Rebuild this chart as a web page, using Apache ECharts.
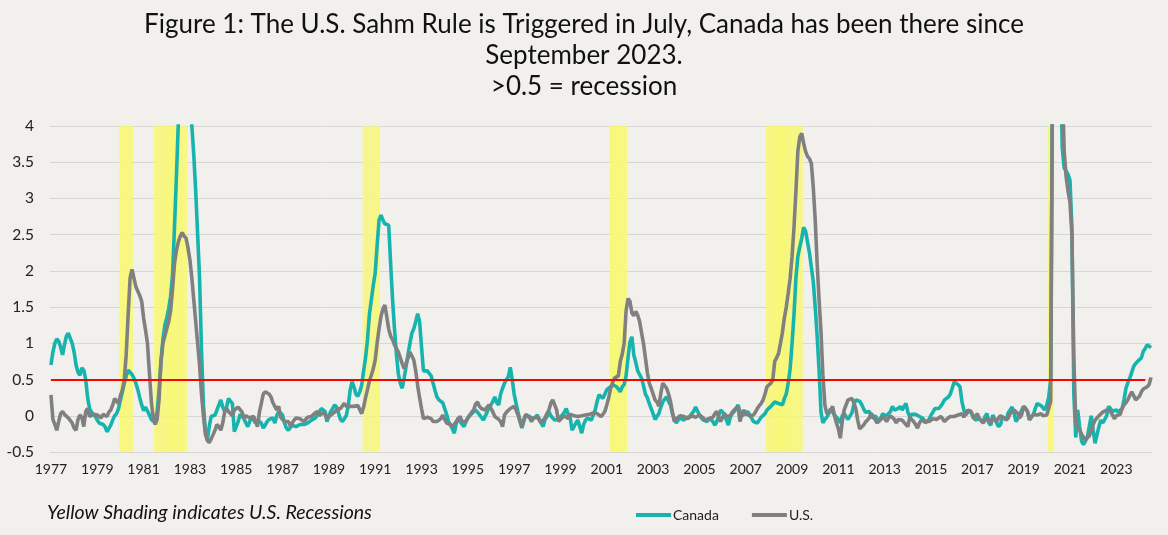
<!DOCTYPE html>
<html>
<head>
<meta charset="utf-8">
<script src="https://cdn.jsdelivr.net/npm/echarts@6/dist/echarts.min.js"></script>
<style>
  html, body { margin: 0; padding: 0; background: #f2f0ed; }
  #chart { width: 1168px; height: 535px; }
</style>
</head>
<body>
<div id="chart"></div>
<script>
// ---- DATA (monthly, Jan 1977 – Jul 2024) ----
const startYear = 1977;
const canada = [
  0.70, 0.88, 1.00, 1.06, 1.03, 0.95, 0.84, 0.98, 1.10, 1.14, 1.12, 1.00, // 1977
  0.88, 0.70, 0.60, 0.56, 0.66, 0.63, 0.50, 0.25, 0.10, 0.05, 0.03, -0.01, // 1978
  -0.06, -0.10, -0.08, -0.12, -0.15, -0.22, -0.24, -0.13, -0.06, 0.00, 0.03, 0.10, // 1979
  0.22, 0.33, 0.45, 0.55, 0.63, 0.62, 0.57, 0.52, 0.45, 0.36, 0.25, 0.15, // 1980
  0.07, 0.12, 0.10, 0.01, -0.05, -0.08, -0.08, 0.05, 0.35, 0.75, 1.05, 1.25, // 1981
  1.35, 1.48, 1.65, 1.95, 2.60, 3.30, 4.05, 4.60, 5.00, 5.20, 5.10, 4.80, // 1982
  4.40, 4.00, 3.60, 3.10, 2.50, 1.90, 0.90, 0.15, -0.20, -0.33, -0.15, -0.01, // 1983
  0.00, 0.01, 0.02, 0.15, 0.22, 0.12, 0.06, 0.12, 0.24, 0.20, 0.17, -0.22, // 1984
  -0.15, -0.08, 0.02, 0.01, -0.04, -0.10, -0.15, -0.08, -0.01, -0.03, -0.10, -0.06, // 1985
  -0.08, -0.10, -0.17, -0.13, -0.08, -0.05, -0.03, -0.03, -0.10, 0.00, 0.06, 0.04, // 1986
  0.01, -0.10, -0.17, -0.20, -0.18, -0.13, -0.14, -0.15, -0.14, -0.12, -0.10, -0.12, // 1987
  -0.13, -0.10, -0.08, -0.06, -0.04, -0.03, 0.01, 0.05, 0.10, 0.08, 0.06, -0.08, // 1988
  0.00, 0.06, 0.10, 0.15, 0.12, 0.10, -0.05, -0.08, -0.10, 0.00, 0.13, 0.35, // 1989
  0.47, 0.40, 0.30, 0.27, 0.33, 0.42, 0.62, 0.80, 1.05, 1.40, 1.60, 1.80, // 1990
  1.97, 2.35, 2.70, 2.77, 2.70, 2.65, 2.64, 2.63, 2.10, 1.60, 1.20, 0.85, // 1991
  0.58, 0.45, 0.38, 0.52, 0.68, 0.85, 1.00, 1.14, 1.20, 1.30, 1.41, 1.30, // 1992
  0.95, 0.62, 0.60, 0.62, 0.62, 0.55, 0.45, 0.35, 0.26, 0.22, 0.20, 0.18, // 1993
  0.17, 0.02, -0.08, -0.13, -0.18, -0.24, -0.10, -0.03, -0.08, -0.10, -0.15, -0.08, // 1994
  -0.03, 0.00, 0.03, 0.05, 0.08, 0.05, 0.03, -0.02, -0.06, -0.06, 0.05, 0.12, // 1995
  0.15, 0.20, 0.26, 0.18, 0.15, 0.30, 0.38, 0.45, 0.50, 0.54, 0.67, 0.50, // 1996
  0.30, 0.17, 0.05, -0.06, -0.17, -0.08, 0.01, 0.00, -0.01, -0.04, -0.06, -0.02, // 1997
  0.01, -0.01, -0.10, -0.15, -0.05, -0.01, 0.06, 0.00, -0.03, -0.06, -0.08, -0.04, // 1998
  -0.02, 0.01, 0.05, 0.10, 0.02, -0.02, -0.20, -0.15, -0.10, -0.06, -0.15, -0.24, // 1999
  -0.12, -0.06, -0.03, -0.01, -0.06, -0.08, 0.08, 0.20, 0.29, 0.27, 0.24, 0.30, // 2000
  0.36, 0.38, 0.40, 0.43, 0.42, 0.40, 0.37, 0.33, 0.40, 0.43, 0.55, 0.80, // 2001
  1.02, 1.09, 0.84, 0.74, 0.62, 0.57, 0.52, 0.42, 0.30, 0.25, 0.17, 0.10, // 2002
  0.03, -0.05, -0.06, 0.03, 0.12, 0.19, 0.23, 0.26, 0.20, 0.15, 0.03, -0.05, // 2003
  -0.10, -0.06, -0.03, -0.05, -0.06, -0.03, -0.02, -0.01, 0.03, 0.06, 0.12, 0.10, // 2004
  0.01, -0.03, -0.06, -0.04, -0.08, -0.03, -0.02, -0.08, -0.13, -0.08, 0.00, 0.08, // 2005
  0.05, 0.02, -0.06, -0.13, -0.02, 0.03, 0.06, 0.10, 0.15, 0.06, 0.00, -0.01, // 2006
  0.03, 0.06, 0.01, -0.03, -0.08, -0.09, -0.10, -0.06, -0.02, 0.00, 0.03, 0.08, // 2007
  0.10, 0.13, 0.16, 0.19, 0.18, 0.17, 0.16, 0.15, 0.24, 0.30, 0.45, 0.65, // 2008
  1.00, 1.40, 1.90, 2.20, 2.33, 2.45, 2.60, 2.55, 2.40, 2.25, 2.05, 1.85, // 2009
  1.50, 1.10, 0.63, 0.05, -0.10, -0.05, -0.02, 0.03, 0.10, 0.05, 0.01, 0.02, // 2010
  -0.05, -0.10, 0.00, 0.03, -0.01, -0.05, -0.06, 0.04, 0.15, 0.22, 0.22, 0.20, // 2011
  0.16, 0.10, 0.05, 0.03, 0.06, 0.00, -0.03, 0.00, -0.02, -0.08, -0.03, 0.03, // 2012
  -0.01, -0.01, 0.03, 0.06, 0.13, 0.08, 0.06, 0.10, 0.13, 0.08, 0.10, 0.17, // 2013
  0.05, -0.01, 0.02, 0.03, 0.02, 0.00, -0.01, -0.03, -0.04, -0.10, -0.08, -0.05, // 2014
  0.01, 0.05, 0.10, 0.08, 0.10, 0.13, 0.17, 0.22, 0.24, 0.26, 0.30, 0.38, // 2015
  0.47, 0.46, 0.43, 0.40, 0.20, 0.08, 0.01, 0.05, 0.08, 0.03, -0.01, -0.06, // 2016
  -0.08, -0.04, -0.06, -0.08, -0.01, 0.03, -0.10, -0.13, 0.01, -0.05, -0.10, -0.15, // 2017
  -0.12, -0.02, -0.03, -0.05, 0.04, 0.08, 0.12, 0.05, -0.08, -0.04, 0.02, 0.08, // 2018
  0.13, 0.10, 0.06, -0.04, -0.02, 0.01, 0.10, 0.17, 0.15, 0.14, 0.13, 0.08, // 2019
  0.15, 0.26, 0.50, 5.00, 9.00, 10.00, 9.00, 5.00, 3.70, 3.42, 3.38, 3.33, // 2020
  3.25, 2.60, 0.30, -0.30, 0.08, -0.15, -0.35, -0.40, -0.35, -0.29, -0.15, 0.00, // 2021
  -0.20, -0.38, -0.40, -0.15, -0.06, -0.10, -0.12, 0.00, 0.13, 0.10, 0.06, 0.04, // 2022
  0.08, 0.05, 0.07, 0.10, 0.22, 0.38, 0.46, 0.52, 0.60, 0.68, 0.72, 0.75, // 2023
  0.75, 0.80, 0.89, 0.93, 0.98, 0.98, 0.94 // 2024
];
const us = [
  0.29, -0.05, -0.12, -0.20, -0.08, 0.03, 0.06, 0.02, 0.01, -0.03, -0.01, -0.10, // 1977
  -0.17, -0.20, -0.05, 0.01, -0.02, -0.15, 0.06, 0.10, -0.01, 0.01, 0.02, 0.00, // 1978
  0.01, -0.01, -0.03, 0.02, 0.02, -0.01, 0.05, 0.08, 0.15, 0.24, 0.20, 0.17, // 1979
  0.28, 0.36, 0.50, 0.85, 1.40, 1.90, 2.02, 1.90, 1.78, 1.72, 1.66, 1.58, // 1980
  1.35, 1.18, 1.00, 0.60, 0.20, -0.05, -0.12, -0.05, 0.22, 0.75, 1.00, 1.10, // 1981
  1.20, 1.30, 1.45, 1.75, 2.10, 2.28, 2.40, 2.48, 2.53, 2.48, 2.45, 2.32, // 1982
  2.15, 1.90, 1.60, 1.30, 1.00, 0.70, 0.30, 0.00, -0.25, -0.34, -0.37, -0.32, // 1983
  -0.26, -0.20, -0.12, -0.15, -0.20, -0.10, 0.05, 0.10, 0.06, 0.04, 0.00, 0.08, // 1984
  0.10, 0.12, 0.10, 0.05, -0.03, 0.00, -0.01, -0.03, -0.03, -0.01, 0.00, -0.15, // 1985
  0.05, 0.17, 0.30, 0.33, 0.33, 0.30, 0.26, 0.18, 0.13, 0.08, 0.13, -0.02, // 1986
  -0.04, -0.08, -0.06, -0.08, -0.14, -0.10, -0.06, -0.03, -0.02, -0.04, -0.06, -0.08, // 1987
  -0.06, -0.02, 0.00, -0.01, 0.02, 0.03, 0.06, 0.00, 0.03, 0.02, 0.03, -0.04, // 1988
  -0.02, 0.01, 0.03, 0.05, 0.08, 0.10, 0.10, 0.12, 0.17, 0.13, 0.12, 0.13, // 1989
  0.15, 0.13, 0.12, 0.14, 0.15, 0.03, 0.12, 0.25, 0.36, 0.48, 0.56, 0.65, // 1990
  0.77, 1.00, 1.20, 1.37, 1.47, 1.53, 1.53, 1.20, 1.10, 1.05, 0.98, 0.93, // 1991
  0.88, 0.80, 0.72, 0.65, 0.72, 0.80, 0.88, 0.88, 0.77, 0.62, 0.42, 0.25, // 1992
  0.10, -0.04, -0.06, -0.02, -0.01, -0.04, -0.08, -0.06, -0.08, -0.10, -0.04, 0.01, // 1993
  -0.05, -0.10, -0.10, -0.12, -0.15, -0.12, -0.08, -0.04, -0.01, -0.08, -0.10, -0.08, // 1994
  -0.03, 0.01, 0.05, 0.08, 0.16, 0.19, 0.13, 0.10, 0.08, 0.08, 0.12, 0.15, // 1995
  0.17, 0.05, -0.01, -0.01, -0.05, -0.08, -0.15, 0.01, 0.05, 0.06, 0.10, 0.12, // 1996
  0.13, 0.08, 0.01, -0.08, -0.15, -0.05, 0.02, 0.03, -0.03, -0.08, -0.03, -0.01, // 1997
  -0.02, -0.06, -0.10, -0.06, -0.03, 0.03, 0.08, 0.17, 0.22, 0.15, 0.08, -0.08, // 1998
  -0.05, -0.03, 0.00, 0.01, -0.04, 0.02, 0.03, 0.00, -0.01, -0.01, -0.02, 0.00, // 1999
  0.02, 0.01, -0.01, 0.02, 0.03, 0.04, 0.06, 0.03, 0.02, -0.01, 0.02, 0.06, // 2000
  0.15, 0.25, 0.38, 0.46, 0.52, 0.53, 0.55, 0.75, 0.85, 1.00, 1.45, 1.62, // 2001
  1.58, 1.42, 1.38, 1.44, 1.39, 1.30, 1.15, 1.00, 0.80, 0.60, 0.45, 0.38, // 2002
  0.30, 0.22, 0.19, 0.13, 0.31, 0.45, 0.47, 0.38, 0.30, 0.20, 0.05, -0.08, // 2003
  -0.04, -0.02, 0.00, 0.01, -0.01, -0.02, -0.04, -0.02, 0.00, 0.01, -0.02, -0.03, // 2004
  0.01, 0.00, -0.03, -0.06, -0.08, -0.04, -0.03, -0.02, 0.03, 0.06, -0.02, -0.08, // 2005
  -0.02, 0.03, -0.01, -0.03, 0.00, 0.05, 0.08, 0.10, 0.13, -0.08, 0.02, 0.08, // 2006
  0.03, 0.02, 0.00, 0.01, 0.01, 0.05, 0.10, 0.14, 0.17, 0.22, 0.30, 0.40, // 2007
  0.42, 0.45, 0.49, 0.75, 0.80, 0.86, 1.00, 1.15, 1.35, 1.50, 1.69, 1.90, // 2008
  2.20, 2.60, 3.10, 3.65, 3.85, 3.90, 3.76, 3.65, 3.58, 3.55, 3.48, 3.15, // 2009
  2.70, 2.10, 1.60, 1.15, 0.55, 0.15, 0.03, 0.04, 0.08, 0.13, 0.00, -0.10, // 2010
  -0.18, -0.31, -0.08, 0.08, 0.15, 0.22, 0.24, 0.24, 0.18, 0.10, -0.06, -0.18, // 2011
  -0.17, -0.13, -0.09, -0.08, -0.03, 0.03, 0.01, -0.05, -0.10, -0.08, -0.05, -0.01, // 2012
  -0.04, -0.08, -0.03, 0.00, -0.02, -0.05, -0.10, -0.05, -0.03, -0.06, -0.08, -0.12, // 2013
  -0.15, -0.02, -0.04, -0.08, -0.12, -0.17, -0.10, -0.06, -0.08, -0.08, -0.10, -0.08, // 2014
  -0.08, -0.04, -0.03, -0.05, -0.04, -0.01, -0.04, -0.08, -0.05, -0.03, -0.01, -0.02, // 2015
  -0.01, 0.00, 0.01, 0.03, 0.03, -0.02, -0.03, 0.08, 0.08, 0.05, -0.04, -0.01, // 2016
  0.03, -0.04, -0.06, -0.10, -0.08, -0.03, -0.06, -0.10, -0.02, 0.00, -0.08, -0.03, // 2017
  0.00, 0.02, -0.03, -0.06, -0.03, 0.03, 0.05, 0.08, 0.06, 0.03, -0.03, 0.02, // 2018
  0.13, 0.10, 0.06, -0.06, -0.08, 0.02, 0.03, 0.01, 0.02, 0.03, 0.00, -0.01, // 2019
  0.01, 0.01, 0.20, 5.00, 8.00, 9.50, 8.00, 6.50, 4.60, 3.65, 3.30, 3.10, // 2020
  2.95, 2.50, 0.80, -0.10, -0.15, -0.20, -0.22, -0.30, -0.33, -0.33, -0.28, -0.20, // 2021
  -0.12, -0.06, -0.03, 0.00, 0.02, 0.05, 0.06, 0.08, 0.08, 0.06, 0.05, -0.04, // 2022
  0.00, 0.02, 0.02, 0.10, 0.15, 0.18, 0.22, 0.28, 0.33, 0.28, 0.22, 0.20, // 2023
  0.27, 0.33, 0.37, 0.38, 0.40, 0.43, 0.53 // 2024
];
// U.S. recessions (first month, last month)
const recessions = [
  ['1980-01', '1980-07'],
  ['1981-07', '1982-11'],
  ['1990-07', '1991-03'],
  ['2001-03', '2001-11'],
  ['2007-12', '2009-06'],
  ['2020-02', '2020-04']
];
const threshold = 0.5;
const yTicks = { min: -0.5, max: 4, step: 0.5 };

// ---- BUILD ----
const months = canada.map((_, i) => {
  const y = startYear + Math.floor(i / 12);
  const m = (i % 12) + 1;
  return y + '-' + (m < 10 ? '0' + m : '' + m);
});
const inRec = m => recessions.some(r => m >= r[0] && m <= r[1]);
const recTop = months.map(m => inRec(m) ? yTicks.max : '-');
const recBottom = months.map(m => inRec(m) ? yTicks.min : '-');

const FONT = 'Lato, "Open Sans", sans-serif';
const YELLOW = '#f8f879';
const chart = echarts.init(document.getElementById('chart'), null, { renderer: 'canvas' });
chart.setOption({
  backgroundColor: '#f2f0ed',
  animation: false,
  title: {
    text: 'Figure 1: The U.S. Sahm Rule is Triggered in July, Canada has been there since\nSeptember 2023.\n>0.5 = recession',
    left: 'center',
    top: 4,
    textStyle: { fontFamily: FONT, fontSize: 26, fontWeight: 'normal', color: '#111', lineHeight: 31 }
  },
  grid: { left: 50, right: 16, top: 126, bottom: 83 },
  legend: {
    data: ['Canada', 'U.S.'],
    left: 631, top: 503,
    icon: 'rect', itemWidth: 35, itemHeight: 4, itemGap: 33,
    textStyle: { fontFamily: FONT, fontSize: 14, color: '#222', padding: [0, 0, 0, -3] }
  },
  graphic: [{
    type: 'text', left: 47, top: 503,
    style: { text: 'Yellow Shading indicates U.S. Recessions', font: 'italic 19.5px ' + FONT, fill: '#111' }
  }],
  xAxis: {
    type: 'category',
    data: months,
    boundaryGap: true,
    axisLine: { show: false },
    axisTick: { show: false },
    axisLabel: {
      interval: (idx) => idx % 24 === 0,
      formatter: v => v.slice(0, 4),
      fontFamily: FONT, fontSize: 14, color: '#222', margin: 10
    },
    splitLine: { show: false }
  },
  yAxis: {
    type: 'value',
    min: yTicks.min, max: yTicks.max, interval: yTicks.step,
    axisLine: { show: false },
    axisTick: { show: false },
    axisLabel: { fontFamily: FONT, fontSize: 15.5, color: '#222', margin: 16 },
    splitLine: { lineStyle: { color: '#d6d6d6', width: 1 } }
  },
  series: [
    { name: 'rec', type: 'bar', stack: 'rec', data: recTop, barCategoryGap: '0%', barGap: '0%',
      itemStyle: { color: YELLOW, borderColor: YELLOW, borderWidth: 0.8 }, silent: true, z: 1 },
    { name: 'rec2', type: 'bar', stack: 'rec', data: recBottom, barCategoryGap: '0%', barGap: '0%',
      itemStyle: { color: YELLOW, borderColor: YELLOW, borderWidth: 0.8 }, silent: true, z: 1 },
    { name: 'Canada', type: 'line', data: canada, showSymbol: false, symbol: 'none',
      lineStyle: { color: '#17b3ad', width: 3.6 }, itemStyle: { color: '#17b3ad' }, z: 3 },
    { name: 'U.S.', type: 'line', data: us, showSymbol: false, symbol: 'none',
      lineStyle: { color: '#808080', width: 3.6 }, itemStyle: { color: '#808080' }, z: 4,
      markLine: {
        silent: true, symbol: ['none', 'none'], label: { show: false },
        lineStyle: { color: '#ff0000', width: 2, type: 'solid' },
        data: [[ { coord: [months[0], threshold] }, { coord: [months[months.length - 4], threshold] } ]]
      }
    }
  ]
});
</script>
</body>
</html>
